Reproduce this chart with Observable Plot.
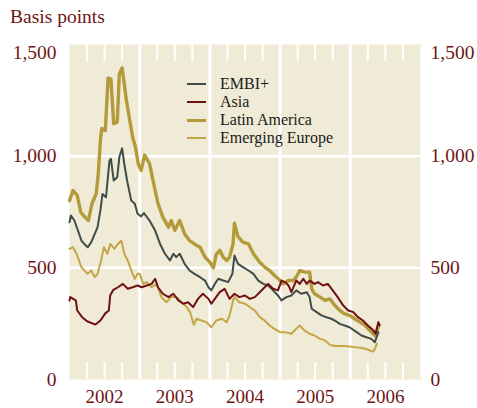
<!DOCTYPE html>
<html>
<head>
<meta charset="utf-8">
<script src="https://cdn.jsdelivr.net/npm/d3@7"></script>
<script src="https://cdn.jsdelivr.net/npm/@observablehq/plot@0.6"></script>
<style>
  html, body { margin: 0; padding: 0; background: #ffffff; }
  #wrap { position: relative; width: 477px; height: 408px; font-family: "Liberation Serif", "Times New Roman", serif; }
  #title { height: 36px; box-sizing: border-box; padding: 7px 0 0 10px; font-size: 19.5px; line-height: 19.5px; color: #6f1515; }
  .lg-sw { position: absolute; left: 187px; width: 19px; }
  .lg-tx { position: absolute; left: 220px; font-size: 16px; line-height: 20px; height: 20px; color: #1a1a1a; white-space: nowrap; }
</style>
</head>
<body>
<div id="wrap">
  <div id="title">Basis points</div>
  <div id="chart"></div>
</div>
<script>
// ---- Data (time in decimal years, spread in basis points) ----
const seriesNames = ["EMBI+", "Asia", "Latin America", "Emerging Europe"];

const latinAmerica = [
  [2002.00,801],[2002.05,846],[2002.11,824],[2002.16,749],[2002.22,727],[2002.27,712],[2002.32,788],[2002.38,831],
  [2002.41,922],[2002.44,1070],[2002.46,1124],[2002.51,1115],[2002.55,1350],[2002.59,1345],[2002.63,1145],[2002.68,1152],
  [2002.71,1369],[2002.75,1395],[2002.78,1324],[2002.81,1250],[2002.85,1175],[2002.90,1085],[2002.94,1040],[2002.98,966],
  [2003.02,936],[2003.07,1005],[2003.14,967],[2003.19,891],[2003.26,788],[2003.33,727],[2003.41,682],[2003.45,712],
  [2003.50,667],[2003.57,712],[2003.64,652],[2003.71,622],[2003.78,607],[2003.86,592],[2003.93,548],[2004.00,525],
  [2004.05,500],[2004.09,560],[2004.14,578],[2004.19,548],[2004.24,533],[2004.28,548],[2004.33,607],[2004.35,700],
  [2004.40,640],[2004.47,615],[2004.55,607],[2004.62,563],[2004.71,525],[2004.78,503],[2004.85,488],[2004.92,466],
  [2005.00,443],[2005.04,428],[2005.12,443],[2005.19,443],[2005.23,458],[2005.28,488],[2005.35,481],[2005.42,481],
  [2005.45,406],[2005.49,384],[2005.57,369],[2005.64,354],[2005.71,361],[2005.78,331],[2005.85,309],[2005.92,294],
  [2005.99,287],[2006.06,272],[2006.14,257],[2006.21,242],[2006.28,219],[2006.35,197],[2006.40,235]
];

const embi = [
  [2002.00,704],[2002.02,734],[2002.07,712],[2002.12,667],[2002.17,622],[2002.21,607],[2002.26,592],[2002.31,615],
  [2002.36,652],[2002.40,682],[2002.44,757],[2002.47,831],[2002.52,816],[2002.57,981],[2002.59,988],[2002.63,891],
  [2002.68,906],[2002.71,996],[2002.75,1035],[2002.78,966],[2002.82,891],[2002.88,801],[2002.93,787],[2002.97,742],
  [2003.02,730],[2003.06,745],[2003.14,712],[2003.22,667],[2003.29,607],[2003.36,563],[2003.43,533],[2003.48,563],
  [2003.52,548],[2003.57,563],[2003.64,518],[2003.71,488],[2003.78,473],[2003.86,458],[2003.93,443],[2003.98,413],
  [2004.02,399],[2004.07,428],[2004.12,451],[2004.19,443],[2004.26,436],[2004.32,473],[2004.35,555],[2004.40,518],
  [2004.47,503],[2004.55,488],[2004.62,473],[2004.69,443],[2004.76,428],[2004.83,421],[2004.90,399],[2004.97,376],
  [2005.02,354],[2005.09,369],[2005.16,376],[2005.23,399],[2005.30,384],[2005.38,391],[2005.42,369],[2005.45,317],
  [2005.52,302],[2005.59,287],[2005.66,279],[2005.73,272],[2005.78,264],[2005.85,249],[2005.92,242],[2005.99,234],
  [2006.09,212],[2006.16,197],[2006.23,189],[2006.30,182],[2006.35,167],[2006.40,212]
];

const asia = [
  [2002.00,354],[2002.01,369],[2002.09,354],[2002.11,309],[2002.18,279],[2002.25,261],[2002.37,246],[2002.44,264],
  [2002.51,296],[2002.56,309],[2002.58,376],[2002.62,400],[2002.69,413],[2002.76,428],[2002.83,406],[2002.90,413],
  [2002.97,421],[2003.03,413],[2003.10,421],[2003.17,428],[2003.22,451],[2003.26,413],[2003.33,384],[2003.41,369],
  [2003.48,384],[2003.55,354],[2003.62,339],[2003.69,346],[2003.76,324],[2003.83,361],[2003.90,384],[2003.98,361],
  [2004.02,339],[2004.07,361],[2004.14,391],[2004.21,406],[2004.28,361],[2004.35,384],[2004.42,369],[2004.50,376],
  [2004.57,361],[2004.64,369],[2004.71,391],[2004.78,413],[2004.83,428],[2004.90,406],[2004.97,399],[2005.02,443],
  [2005.07,436],[2005.12,421],[2005.16,391],[2005.23,443],[2005.28,428],[2005.33,451],[2005.38,428],[2005.42,443],
  [2005.49,428],[2005.54,436],[2005.61,421],[2005.68,428],[2005.75,399],[2005.82,369],[2005.90,331],[2005.97,309],
  [2006.04,302],[2006.11,279],[2006.18,264],[2006.25,242],[2006.33,219],[2006.36,205],[2006.40,257],[2006.42,242]
];

const emergingEurope = [
  [2002.00,585],[2002.05,592],[2002.10,563],[2002.17,503],[2002.21,488],[2002.26,473],[2002.31,488],[2002.36,458],
  [2002.40,473],[2002.45,533],[2002.49,592],[2002.54,563],[2002.58,607],[2002.64,585],[2002.69,607],[2002.74,622],
  [2002.78,563],[2002.83,533],[2002.88,488],[2002.93,451],[2002.97,473],[2003.00,473],[2003.05,428],[2003.10,436],
  [2003.17,413],[2003.24,428],[2003.31,369],[2003.38,346],[2003.45,369],[2003.52,369],[2003.60,346],[2003.67,324],
  [2003.72,300],[2003.77,245],[2003.81,272],[2003.88,264],[2003.95,257],[2004.02,234],[2004.09,264],[2004.17,272],
  [2004.24,257],[2004.28,287],[2004.33,354],[2004.35,369],[2004.42,346],[2004.50,339],[2004.57,324],[2004.64,309],
  [2004.71,279],[2004.78,264],[2004.85,242],[2004.92,227],[2005.00,212],[2005.07,212],[2005.16,205],[2005.23,227],
  [2005.28,242],[2005.35,219],[2005.42,205],[2005.49,197],[2005.57,182],[2005.64,175],[2005.71,155],[2005.78,150],
  [2005.85,150],[2005.92,150],[2005.99,148],[2006.06,145],[2006.14,142],[2006.21,138],[2006.28,130],[2006.33,125],
  [2006.38,160]
];

const yTicks = [0, 500, 1000];
const yTopTick = [1500];
const yearBoundaries = [2003, 2004, 2005, 2006];
const yearLabels = [2002, 2003, 2004, 2005, 2006];
const quarterTicks = [2002.25, 2002.5, 2002.75, 2003.25, 2003.5, 2003.75, 2004.25, 2004.5, 2004.75,
                      2005.25, 2005.5, 2005.75, 2006.25, 2006.5, 2006.75];

// ---- Styles ----
const colors = {
  "EMBI+": "#3e4c4a",
  "Asia": "#701012",
  "Latin America": "#b39a3a",
  "Emerging Europe": "#c2a647"
};
const widths = { "EMBI+": 2, "Asia": 2, "Latin America": 3.4, "Emerging Europe": 2 };
const bg = "#f0ebd7";
const labelColor = "#6f1515";

const W = 477, H = 372, mT = 8, mB = 29, mL = 69, mR = 57;
const plotH = H - mT - mB;
const tickLen = 17;

const toRows = arr => arr.map(([t, v]) => ({t, v}));

const lineMark = (arr, name) => Plot.line(toRows(arr), {
  x: "t", y: "v", stroke: colors[name], strokeWidth: widths[name], strokeLinejoin: "round"
});

const axisFont = 19.5;

const chart = Plot.plot({
  width: W, height: H,
  marginTop: mT, marginBottom: mB, marginLeft: mL, marginRight: mR,
  style: { fontFamily: "'Liberation Serif', 'Times New Roman', serif", background: "#ffffff", overflow: "visible" },
  x: { domain: [2002, 2007], label: null },
  y: { domain: [0, 1500], label: null },
  marks: [
    Plot.frame({ fill: bg, stroke: "none" }),
    Plot.ruleX(yearBoundaries, { stroke: "#ffffff", strokeWidth: 3 }),
    Plot.ruleY([500, 1000], { stroke: "#ffffff", strokeWidth: 2.5 }),
    Plot.tickX(quarterTicks, { x: d => d, stroke: "#ffffff", strokeWidth: 2, insetBottom: plotH - tickLen }),
    Plot.tickX(quarterTicks, { x: d => d, stroke: "#ffffff", strokeWidth: 2, insetTop: plotH - tickLen }),
    lineMark(latinAmerica, "Latin America"),
    lineMark(emergingEurope, "Emerging Europe"),
    lineMark(embi, "EMBI+"),
    lineMark(asia, "Asia"),
    Plot.axisY(yTicks, { anchor: "left", tickSize: 0, tickPadding: 13, tickFormat: d3.format(","), fill: labelColor, fontSize: axisFont, label: null }),
    Plot.axisY(yTopTick, { anchor: "left", tickSize: 0, tickPadding: 13, tickFormat: d3.format(","), fill: labelColor, fontSize: axisFont, dy: 8, label: null }),
    Plot.axisY(yTicks, { anchor: "right", tickSize: 0, tickPadding: 10, tickFormat: d3.format(","), fill: labelColor, fontSize: axisFont, label: null }),
    Plot.axisY(yTopTick, { anchor: "right", tickSize: 0, tickPadding: 10, tickFormat: d3.format(","), fill: labelColor, fontSize: axisFont, dy: 8, label: null }),
    Plot.axisX(yearLabels.map(y => y + 0.5), { anchor: "bottom", tickSize: 0, tickPadding: 10, tickFormat: d => String(Math.floor(d)), fill: labelColor, fontSize: 19, label: null })
  ]
});
document.getElementById("chart").appendChild(chart);

// ---- Legend (inside plot area) ----
const wrap = document.getElementById("wrap");
const legendRowsY = [84, 102, 120, 138];
seriesNames.forEach((name, i) => {
  const cy = legendRowsY[i];
  const sw = document.createElement("div");
  sw.className = "lg-sw";
  const th = widths[name] >= 3 ? 3 : 2;
  sw.style.top = (cy - th / 2) + "px";
  sw.style.height = th + "px";
  sw.style.background = colors[name];
  wrap.appendChild(sw);
  const tx = document.createElement("div");
  tx.className = "lg-tx";
  tx.style.top = (cy - 10) + "px";
  tx.textContent = name;
  wrap.appendChild(tx);
});
</script>
</body>
</html>
